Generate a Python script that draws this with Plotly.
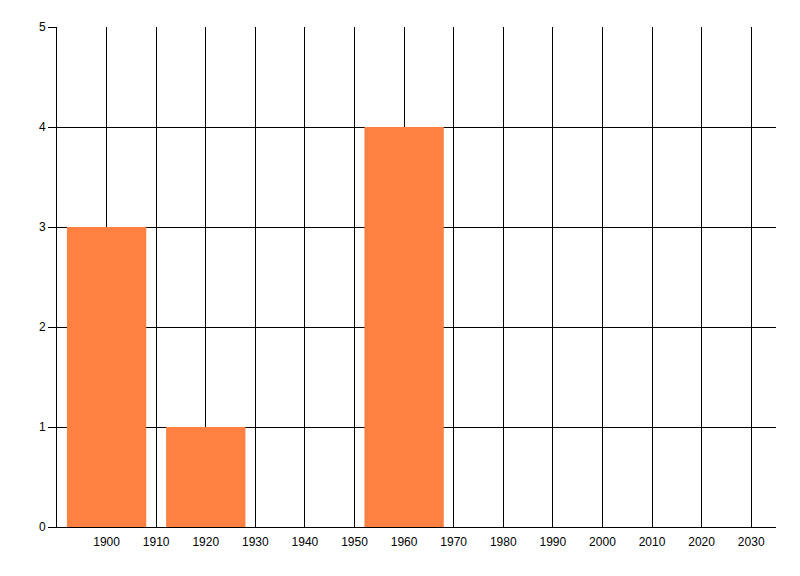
import plotly.graph_objects as go

years = [1900, 1920, 1960]
counts = [3, 1, 4]
x_ticks = list(range(1900, 2031, 10))
y_ticks = [0, 1, 2, 3, 4, 5]

fig = go.Figure()
fig.add_trace(go.Bar(
    x=years, y=counts, width=16,
    marker=dict(color="#FF8142", line=dict(width=0)),
    showlegend=False,
))

fig.update_layout(
    width=784, height=560,
    margin=dict(l=49, r=16, t=19, b=41),
    paper_bgcolor="white", plot_bgcolor="white",
    font=dict(family="Liberation Sans, Arial, sans-serif", size=12, color="black"),
    xaxis=dict(
        range=[1890, 2035], tickvals=x_ticks, ticktext=[str(v) for v in x_ticks],
        showgrid=True, gridcolor="black", gridwidth=1,
        showline=True, linecolor="black", linewidth=1,
        ticks="", zeroline=False, ticklabelstandoff=4,
    ),
    yaxis=dict(
        range=[0, 5], tickvals=y_ticks,
        showgrid=True, gridcolor="black", gridwidth=1,
        showline=True, linecolor="black", linewidth=1,
        ticks="outside", ticklen=8, tickcolor="black", tickwidth=1,
        zeroline=False,
    ),
)

fig.write_html("out.html")
